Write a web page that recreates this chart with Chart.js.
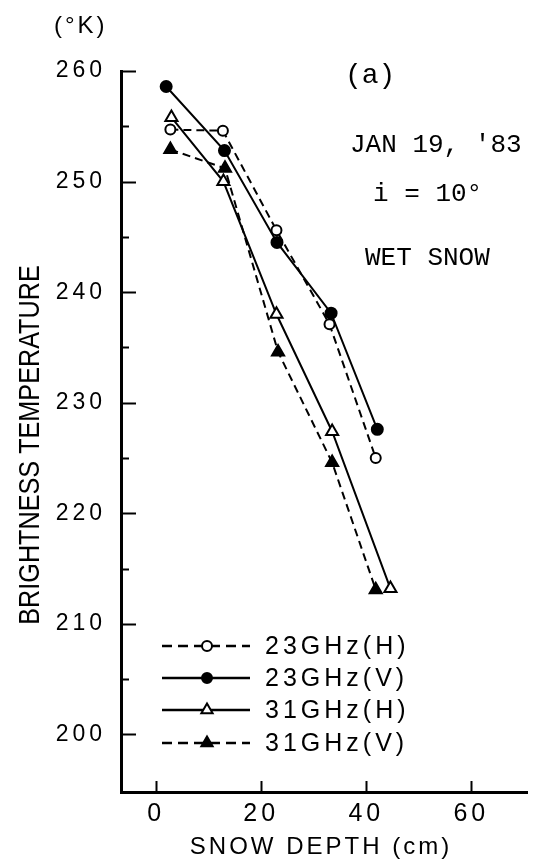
<!DOCTYPE html>
<html><head><meta charset="utf-8">
<script src="https://cdn.jsdelivr.net/npm/chart.js@4/dist/chart.umd.min.js"></script>
<style>html,body{margin:0;padding:0;background:#fff;}#wrap{width:536px;height:863px;}</style>
</head><body><div id="wrap"><canvas id="c" width="536" height="863"></canvas></div>
<script>
// ---- data ----
const seriesLabels = ['23GHz(H)', '23GHz(V)', '31GHz(H)', '31GHz(V)'];
const depth23H = [2.7, 12.7, 22.9, 33.0, 41.8];
const tb23H    = [254.7, 254.6, 245.6, 237.1, 225.0];
const depth23V = [1.9, 13.0, 23.0, 33.3, 42.1];
const tb23V    = [258.6, 252.8, 244.5, 238.1, 227.6];
const depth31H = [2.9, 12.8, 22.9, 33.5, 44.6];
const tb31H    = [255.8, 250.0, 238.0, 227.4, 213.2];
const depth31V = [2.7, 13.1, 23.2, 33.5, 41.8];
const tb31V    = [252.9, 251.2, 234.6, 224.6, 213.1];
const xTickValues = [0, 20, 40, 60];
const yTickValues = [200, 205, 210, 215, 220, 225, 230, 235, 240, 245, 250, 255, 260];
const yTitle = 'BRIGHTNESS TEMPERATURE';
const yUnit = '(°K)';
const xTitle = 'SNOW DEPTH (cm)';
const notes = ['(a)', "JAN 19, '83", 'i = 10°', 'WET SNOW'];

function pts(xs, ys) { return xs.map((x, i) => ({x: x, y: ys[i]})); }

const styles = [
  {dash: [8, 5], point: 'circle', fill: '#fff', r: 5},
  {dash: [], point: 'circle', fill: '#000', r: 5.5},
  {dash: [], point: 'triangle', fill: '#fff', r: 7},
  {dash: [8, 5], point: 'triangle', fill: '#000', r: 7}
];
const seriesData = [pts(depth23H, tb23H), pts(depth23V, tb23V), pts(depth31H, tb31H), pts(depth31V, tb31V)];

const datasets = seriesLabels.map((lab, i) => ({
  label: lab,
  data: seriesData[i],
  showLine: true,
  borderColor: '#000',
  borderWidth: 2,
  borderDash: styles[i].dash,
  pointStyle: styles[i].point,
  pointRadius: styles[i].r,
  pointBackgroundColor: styles[i].fill,
  pointBorderColor: '#000',
  pointBorderWidth: 2,
  tension: 0
}));

function drawMarker(ctx, style, x, y, r, fill) {
  ctx.save();
  ctx.setLineDash([]);
  ctx.beginPath();
  if (style === 'circle') {
    ctx.arc(x, y, r, 0, Math.PI * 2);
  } else {
    let a = 0;
    ctx.moveTo(x + Math.sin(a) * r, y - Math.cos(a) * r);
    a += 2 * Math.PI / 3;
    ctx.lineTo(x + Math.sin(a) * r, y - Math.cos(a) * r);
    a += 2 * Math.PI / 3;
    ctx.lineTo(x + Math.sin(a) * r, y - Math.cos(a) * r);
    ctx.closePath();
  }
  ctx.fillStyle = fill;
  ctx.fill();
  ctx.lineWidth = 2;
  ctx.strokeStyle = '#000';
  ctx.stroke();
  ctx.restore();
}

const decor = {
  id: 'decor',
  beforeDraw(chart) { chart.ctx.letterSpacing = '4px'; },
  beforeDatasetsDraw(chart) { chart.ctx.letterSpacing = '0px'; },
  afterDraw(chart) {
    const ctx = chart.ctx;
    const xs = chart.scales.x, ys = chart.scales.y;
    const ca = chart.chartArea;
    ctx.save();
    ctx.strokeStyle = '#000';
    ctx.lineWidth = 2;
    ctx.setLineDash([]);
    // inward tick marks
    yTickValues.forEach(v => {
      const py = Math.round(ys.getPixelForValue(v)) + 0.5;
      const len = (v % 10 === 0) ? 15 : 8;
      ctx.beginPath(); ctx.moveTo(ca.left, py); ctx.lineTo(ca.left + len, py); ctx.stroke();
    });
    xTickValues.forEach(v => {
      const px = Math.round(xs.getPixelForValue(v)) + 0.5;
      ctx.beginPath(); ctx.moveTo(px, ca.bottom); ctx.lineTo(px, ca.bottom - 11); ctx.stroke();
    });
    ctx.fillStyle = '#000';
    // axis titles
    ctx.letterSpacing = '0px';
    ctx.save();
    ctx.translate(31, 445);
    ctx.rotate(-Math.PI / 2);
    ctx.scale(0.84, 1);
    ctx.font = '30px "Liberation Sans", sans-serif';
    ctx.textAlign = 'center'; ctx.textBaseline = 'middle';
    ctx.fillText(yTitle, 0, 0);
    ctx.restore();
    ctx.letterSpacing = '3px';
    ctx.font = '24px "Liberation Sans", sans-serif';
    ctx.textAlign = 'center'; ctx.textBaseline = 'middle';
    ctx.fillText(xTitle, 321, 847);
    ctx.letterSpacing = '3px';
    ctx.font = '24px "Liberation Sans", sans-serif';
    ctx.textAlign = 'left';
    ctx.fillText(yUnit, 54, 26);
    // annotations
    ctx.letterSpacing = '0px';
    ctx.textAlign = 'left'; ctx.textBaseline = 'middle';
    ctx.font = '28px "Liberation Mono", monospace';
    ctx.fillText(notes[0], 345, 76);
    ctx.font = '26px "Liberation Mono", monospace';
    ctx.fillText(notes[1], 350, 145);
    ctx.fillText(notes[2], 373, 194);
    ctx.fillText(notes[3], 365, 258);
    // legend
    const rowY = [646, 678, 710, 743];
    chart.data.datasets.forEach((ds, i) => {
      const y = rowY[i];
      ctx.save();
      ctx.lineWidth = 2.5;
      ctx.setLineDash(ds.borderDash.length ? [10, 6] : []);
      ctx.beginPath(); ctx.moveTo(162, y); ctx.lineTo(250, y); ctx.stroke();
      ctx.restore();
      drawMarker(ctx, ds.pointStyle, 207, y, ds.pointStyle === 'circle' ? 5 : 6.5, ds.pointBackgroundColor);
      ctx.letterSpacing = '4px';
      ctx.font = '25px "Liberation Sans", sans-serif';
      ctx.textAlign = 'left'; ctx.textBaseline = 'middle';
      ctx.fillStyle = '#000';
      ctx.fillText(ds.label, 265, y + 1);
    });
    ctx.restore();
  }
};

new Chart(document.getElementById('c'), {
  type: 'scatter',
  data: {datasets: datasets},
  options: {
    responsive: false,
    devicePixelRatio: 1,
    animation: false,
    layout: {padding: {top: 71, right: 0, bottom: 0, left: 0}},
    plugins: {legend: {display: false}, tooltip: {enabled: false}},
    scales: {
      x: {
        type: 'linear', min: -6.7, max: 70.6,
        afterBuildTicks: s => { s.ticks = xTickValues.map(v => ({value: v})); },
        afterFit: s => { s.height = 71; },
        grid: {drawOnChartArea: false, drawTicks: false},
        border: {display: true, color: '#000', width: 3},
        ticks: {color: '#000', padding: 7, maxRotation: 0, autoSkip: false,
                font: {family: 'Liberation Sans', size: 25}}
      },
      y: {
        type: 'linear', min: 194.8, max: 260,
        afterBuildTicks: s => { s.ticks = yTickValues.map(v => ({value: v})); },
        afterFit: s => { s.width = 121; },
        grid: {drawOnChartArea: false, drawTicks: false},
        border: {display: true, color: '#000', width: 3},
        ticks: {color: '#000', padding: 15, autoSkip: false,
                font: {family: 'Liberation Sans', size: 23},
                callback: v => (v % 10 === 0 ? String(v) : '')}
      }
    }
  },
  plugins: [decor]
});
</script>
</body></html>
